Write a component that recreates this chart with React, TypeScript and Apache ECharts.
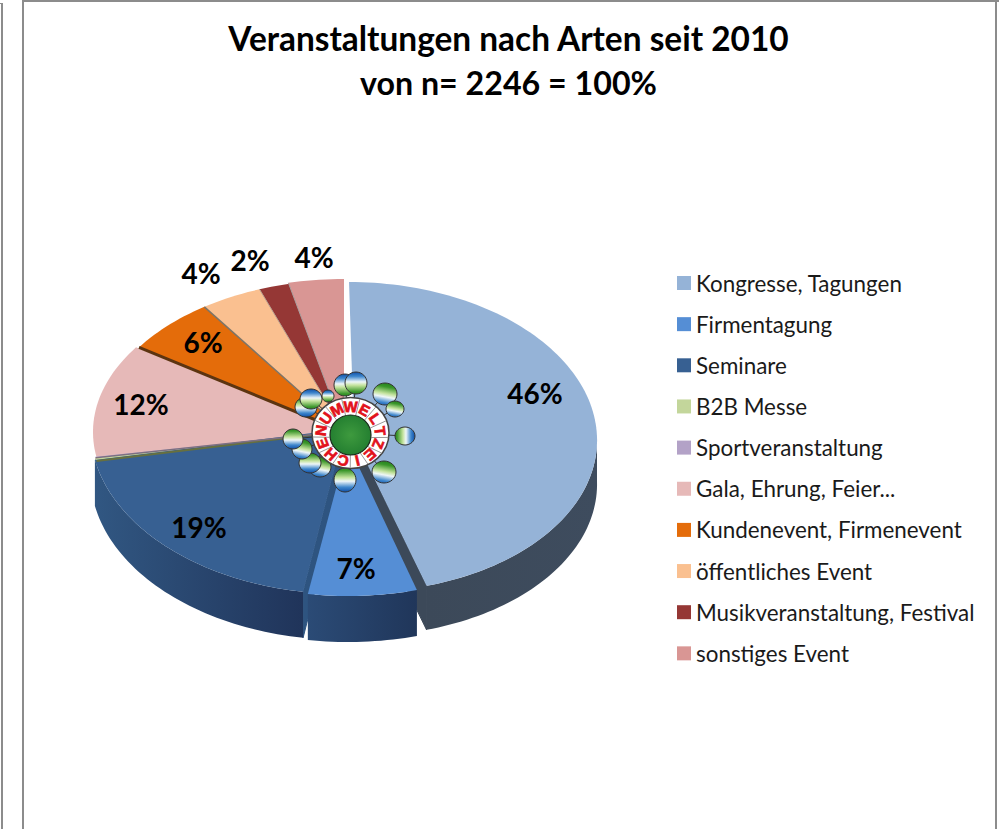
import React, { useEffect, useRef } from "react";
import * as echarts from "echarts";

const categories = ["Kongresse, Tagungen","Firmentagung","Seminare","B2B Messe","Sportveranstaltung","Gala, Ehrung, Feier...","Kundenevent, Firmenevent","öffentliches Event","Musikveranstaltung, Festival","sonstiges Event"];
const values = [45.5, 7.1, 19.4, 0.3, 0.1, 12, 6, 4, 2, 3.6];
const colors = ["#95B3D7","#558ED5","#376092","#C3D69B","#B3A2C7","#E6B9B8","#E46C0A","#FAC090","#953735","#D99694"];
const titleLines = ["Veranstaltungen nach Arten seit 2010", "von n= 2246 = 100%"];
const hiddenLabels = [3, 4];

// Layout of each exploded slice (centre, radii and shear of its ellipse), wall depth, label position
const geom = [
  { cx: 354, cy: 437, rx: 243, ry: 155, d: 44, s: 0.032 },
  { cx: 348, cy: 444, rx: 247, ry: 152, d: 46, s: 0 },
  { cx: 344.4, cy: 429, rx: 254, ry: 165, d: 46, s: 0 },
  { cx: 346, cy: 431, rx: 254, ry: 160, d: 45, s: 0 },
  { cx: 346, cy: 431, rx: 254, ry: 158, d: 45, s: 0 },
  { cx: 347, cy: 432, rx: 254, ry: 152, d: 0, s: 0 },
  { cx: 345, cy: 432, rx: 248, ry: 152, d: 0, s: 0 },
  { cx: 345, cy: 432, rx: 248, ry: 152, d: 0, s: 0 },
  { cx: 345, cy: 432, rx: 248, ry: 152, d: 0, s: 0 },
  { cx: 344, cy: 431, rx: 248, ry: 152, d: 0, s: 0 },
];
const labelPos = [[535,393],[356,568],[199,527],[0,0],[0,0],[141,404],[203,342],[201,273],[250,260],[314,257]];
const wallStyle: any[] = [
  ["#3E4C5E", "#3C4959"], ["#2B4B76", "#20365A"], ["#315782", "#20345A"], ["#6B7345", "#6B7345"], ["#6B7345", "#6B7345"],
  null, null, null, null, null,
];
// Cut face: colour and at which end of the slice it is seen
const faceColor: any[] = ["#3C4959", null, "#2E5480", null, null, null, null, null, null, null];
const faceAtEnd = [true, false, false, false, false, false, false, false, false, false];
const edgeStyle: any[] = [null, null, null, ["#67703F", 2], ["#7D6F80", 1.5], null, ["#5C3410", 3], ["#7C7468", 1.5], ["#B9A08E", 1], ["#A9A0A0", 1]];
const wallZ = [2, 6, 4, 3, 3, 0, 0, 0, 0, 0];
const topZ = [20, 21, 20, 19, 19, 18, 18, 18, 18, 18];

const FONT = "Lato";
const total = values.reduce((a, b) => a + b, 0);
const starts: number[] = [];
values.reduce((acc, v, i) => { starts[i] = acc; return acc + v; }, 0);

const deg = (pct: number) => (pct / total) * 360;
const pt = (g: any, a: number, dy = 0) => {
  const r = (a * Math.PI) / 180;
  const off = -g.ry * Math.cos(r);
  return [g.cx + g.rx * Math.sin(r) + g.s * off, g.cy + off + dy];
};
const arc = (g: any, a0: number, a1: number, dy = 0) => {
  const n = Math.max(2, Math.ceil((a1 - a0) / 1.5));
  const out: number[][] = [];
  for (let k = 0; k <= n; k++) out.push(pt(g, a0 + ((a1 - a0) * k) / n, dy));
  return out;
};

function sliceElements(i: number) {
  const g = geom[i];
  const a0 = deg(starts[i]);
  const a1 = deg(starts[i] + values[i]);
  const children: any[] = [];
  const face = faceColor[i];
  if (face) {
    const e = pt(g, faceAtEnd[i] ? a1 : a0);
    children.push({
      type: "polygon", z2: wallZ[i],
      shape: { points: [[g.cx, g.cy], e, [e[0], e[1] + g.d], [g.cx, g.cy + g.d]] },
      style: { fill: face, stroke: face, lineWidth: 1 },
    });
  }
  if (wallStyle[i]) {
    const w0 = Math.max(a0, 90);
    const w1 = Math.min(a1, 270);
    const top = arc(g, w0, w1);
    const bot = arc(g, w0, w1, g.d).reverse();
    children.push({
      type: "polygon", z2: wallZ[i] + 1,
      shape: { points: top.concat(bot) },
      style: {
        fill: new echarts.graphic.LinearGradient(i === 0 ? 1 : 0, 0, i === 0 ? 0 : 1, 0, [
          { offset: 0, color: wallStyle[i][0] },
          { offset: 1, color: wallStyle[i][1] },
        ]),
      },
    });
  }
  children.push({
    type: "polygon", z2: topZ[i],
    shape: { points: [[g.cx, g.cy]].concat(arc(g, a0, a1)) },
    style: { fill: colors[i] },
  });
  if (edgeStyle[i]) {
    const s = pt(g, a0);
    children.push({
      type: "line", z2: topZ[i] + 1,
      shape: { x1: s[0], y1: s[1], x2: g.cx, y2: g.cy },
      style: { stroke: edgeStyle[i][0], lineWidth: edgeStyle[i][1] },
    });
  }
  if (!hiddenLabels.includes(i)) {
    children.push({
      type: "text", z2: 40,
      style: {
        text: Math.round(values[i]) + "%", x: labelPos[i][0], y: labelPos[i][1],
        align: "center", verticalAlign: "middle",
        font: `bold 28px ${FONT}`, fill: "#000",
      },
    });
  }
  return { type: "group", children };
}

// Logo of the "Umweltzeichen" in the middle of the pie
const LCX = 350.5, LCY = 433;
const logoBalls = [
  [345,385,11,11,1],[356,383,11,11,1],[385,394,12,11,2],[395,409,9,8,2],[405,436,10,9,3],
  [384,472,12,11,2],[345,480,11,12,0],[320,467,11,10,2],[310,463,11,10,0],[302,449,10,10,2],
  [293,439,10,10,0],[306,407,11,10,0],[311,399,11,10,1],[328,396,6,6,1],
];
const logoLetters = "UMWELTZEICHEN".split("");

function logoElements() {
  const els: any[] = [];
  const stops = [
    { offset: 0, color: "#0F4FA8" }, { offset: 0.2, color: "#3E86CC" }, { offset: 0.45, color: "#EEF6F8" },
    { offset: 0.6, color: "#C6E4A0" }, { offset: 0.9, color: "#3A962A" }, { offset: 1, color: "#2C8A22" },
  ];
  const ballGrad = (k: number) => {
    const d = k === 1 ? [0, 0, 0, 1] : k === 0 ? [0, 1, 0, 0] : k === 2 ? [0, 1, 0.2, 0] : [1, 0, 0, 0];
    return new echarts.graphic.LinearGradient(d[0], d[1], d[2], d[3], stops);
  };
  logoBalls.forEach((b) => {
    els.push({ type: "line", z: 100, shape: { x1: LCX, y1: LCY, x2: b[0], y2: b[1] }, style: { stroke: "#333", lineWidth: 1 } });
  });
  logoBalls.forEach((b) => {
    els.push({ type: "ellipse", z: 101, shape: { cx: b[0], cy: b[1], rx: b[2], ry: b[3] }, style: { fill: ballGrad(b[4] as number), stroke: "#333", lineWidth: 1 } });
  });
  els.push({ type: "ellipse", z: 102, shape: { cx: LCX, cy: LCY, rx: 38.5, ry: 35.5 }, style: { fill: "#fff", stroke: "#444", lineWidth: 1.5 } });
  logoLetters.forEach((ch, i) => {
    const a = ((-55 + (i * 360) / 13) * Math.PI) / 180;
    const m = ((-55 + ((i + 0.5) * 360) / 13) * Math.PI) / 180;
    els.push({
      type: "line", z: 103,
      shape: { x1: LCX + 21 * Math.sin(m), y1: LCY + 2 - 20 * Math.cos(m), x2: LCX + 38 * Math.sin(m), y2: LCY - 35 * Math.cos(m) },
      style: { stroke: "#999", lineWidth: 1 },
    });
    els.push({
      type: "text", z: 104,
      x: LCX + 30 * Math.sin(a), y: LCY + 1 - 27.5 * Math.cos(a), rotation: -a,
      style: { text: ch, font: "900 15px 'Liberation Sans'", fill: "#E2121B", stroke: "#E2121B", lineWidth: 0.7, align: "center", verticalAlign: "middle" },
    });
  });
  els.push({
    type: "ellipse", z: 105, shape: { cx: LCX, cy: LCY + 2, rx: 20.5, ry: 20 },
    style: {
      fill: new echarts.graphic.RadialGradient(0.5, 0.5, 0.6, [
        { offset: 0, color: "#3E9A3E" }, { offset: 1, color: "#1F7A2E" },
      ]),
      stroke: "#1c2b1c", lineWidth: 1.2,
    },
  });
  return els;
}

const frame = [
  { x: 1, y: 3, w: 2, h: 826 }, { x: 0, y: 3, w: 3, h: 1 },
  { x: 22, y: 0, w: 2, h: 829 }, { x: 22, y: 0, w: 977, h: 2 },
  { x: 995, y: 0, w: 2, h: 829 },
];

export default function App() {
  const ref = useRef<HTMLDivElement>(null);
  useEffect(() => {
    document.body.style.margin = "0";
    const chart = echarts.init(ref.current!, undefined, { renderer: "svg" });
    chart.setOption({
      animation: false,
      backgroundColor: "#fff",
      title: {
        text: `{a|${titleLines[0]}}\n{b|${titleLines[1]}}`,
        left: 503.5, top: 10, textAlign: "center",
        textStyle: {
          fontFamily: FONT, fontWeight: "bold", lineHeight: 45, color: "#000",
          rich: {
            a: { fontFamily: FONT, fontWeight: "bold", fontSize: 33.4, lineHeight: 45, color: "#000" },
            b: { fontFamily: FONT, fontWeight: "bold", fontSize: 32.2, lineHeight: 45, color: "#000" },
          },
        },
      },
      legend: {
        orient: "vertical", left: 672, top: 265, itemWidth: 14, itemHeight: 14, itemGap: 15.15,
        icon: "rect", selectedMode: false, data: categories,
        textStyle: { fontFamily: FONT, fontSize: 22.4, lineHeight: 26, color: "#1a1a1a", padding: [0, 0, 0, 0] },
      },
      series: categories.map((name, i) => ({
        type: "custom", name, coordinateSystem: "none", silent: true,
        itemStyle: { color: colors[i] }, data: [values[i]],
        renderItem: () => sliceElements(i),
      })),
      graphic: {
        z: 100,
        elements: [
          ...frame.map((f) => ({ type: "rect", z: 100, shape: { x: f.x, y: f.y, width: f.w, height: f.h }, style: { fill: "#8C8C8C" } })),
          ...logoElements(),
        ],
      },
    });
    return () => chart.dispose();
  }, []);
  return <div ref={ref} style={{ position: "absolute", left: 0, top: 0, width: 999, height: 829, overflow: "hidden" }} />;
}
